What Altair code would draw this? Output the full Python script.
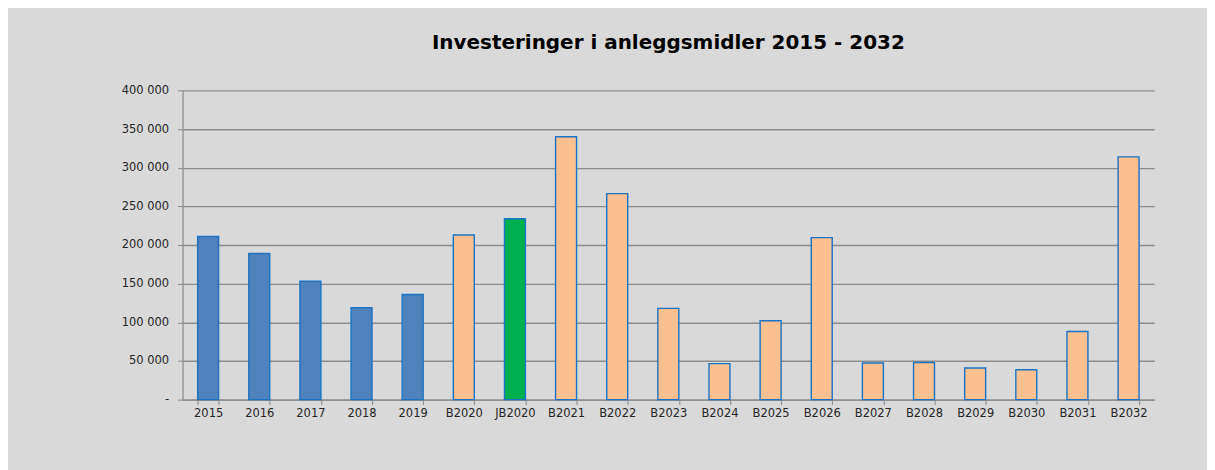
import altair as alt
import pandas as pd

categories = ["2015", "2016", "2017", "2018", "2019", "B2020", "JB2020", "B2021", "B2022",
              "B2023", "B2024", "B2025", "B2026", "B2027", "B2028", "B2029", "B2030", "B2031", "B2032"]
values = [211000, 189000, 153000, 119000, 136000, 213000, 234000, 340000, 266500,
          118000, 46500, 102000, 209500, 47300, 48000, 40800, 38700, 88000, 314000]
groups = ["Regnskap"] * 5 + ["Budsjett", "Justert budsjett"] + ["Budsjett"] * 12

group_domain = ["Regnskap", "Budsjett", "Justert budsjett"]
group_colors = ["#4f81bd", "#fac090", "#00b050"]

df = pd.DataFrame({"kategori": categories, "verdi": values, "type": groups})

FONT = "DejaVu Sans"

chart = alt.Chart(df).mark_bar(stroke="#1a73c4", strokeWidth=1.4).encode(
    x=alt.X("kategori:N", sort=categories, title=None,
            scale=alt.Scale(paddingInner=0.59, paddingOuter=0.295),
            axis=alt.Axis(labelAngle=0, tickBand="extent", tickSize=5, tickColor="#8a8a8a",
                          domainColor="#8a8a8a", domainWidth=1.2, labelPadding=3,
                          labelFont=FONT, labelFontSize=11.5, labelColor="#262626", grid=False)),
    y=alt.Y("verdi:Q", title=None,
            scale=alt.Scale(domain=[0, 400000], nice=False),
            axis=alt.Axis(values=[0, 50000, 100000, 150000, 200000, 250000, 300000, 350000, 400000],
                          labelExpr="datum.value == 0 ? '-' : replace(format(datum.value, ','), ',', ' ')",
                          tickSize=5, tickColor="#8a8a8a", domainColor="#8a8a8a", domainWidth=1.2,
                          labelPadding=9, labelFont=FONT, labelFontSize=11.5, labelColor="#262626",
                          gridColor="#8c8c8c", gridWidth=1.4)),
    color=alt.Color("type:N", scale=alt.Scale(domain=group_domain, range=group_colors), legend=None),
).properties(
    width=974,
    height=310,
    padding={"left": 175, "top": 82, "right": 53, "bottom": 70},
    autosize=alt.AutoSizeParams(type="none"),
    background="#d9d9d9",
    title=alt.TitleParams("Investeringer i anleggsmidler 2015 - 2032", anchor="middle",
                          font=FONT, fontSize=20, fontWeight="bold", color="#000000",
                          baseline="alphabetic", offset=15),
).configure_view(stroke=None)

chart.save("out.html", embed_options={"renderer": "svg", "actions": False})
